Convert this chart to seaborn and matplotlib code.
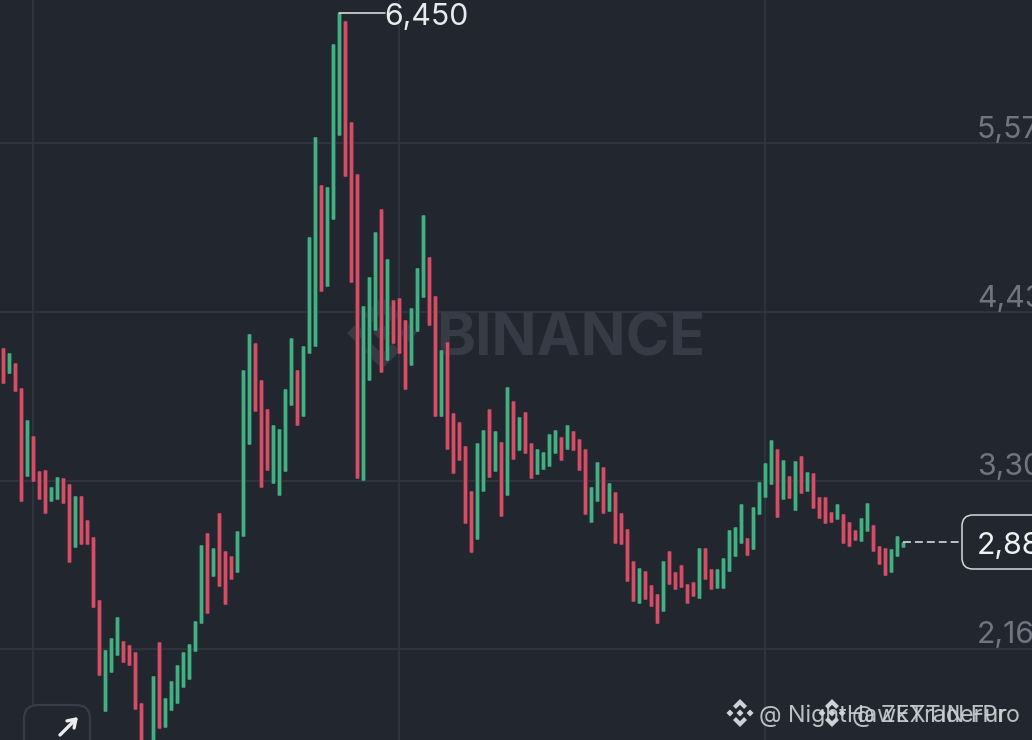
import matplotlib
matplotlib.use("Agg")
import matplotlib.pyplot as plt
import matplotlib.patheffects as pe
from matplotlib.patches import FancyBboxPatch, Polygon
from matplotlib.transforms import Affine2D
import seaborn as sns
import pandas as pd

# bar highs / lows, one bar per index
highs = [4189, 4155, 4088, 3919, 3703, 3596, 3360, 3366, 3252, 3319,
         3313, 3272, 3191, 3191, 3029, 2915, 2490, 2153, 2234, 2376,
         2214, 2187, 2140, 1796, 1533, 1978, 2207, 1830, 1944, 2052,
         2140, 2194, 2349, 2861, 2942, 2841, 3077, 2821, 2787, 2955,
         4040, 4283, 4222, 3973, 3778, 3670, 3643, 3912, 4256, 4040,
         4202, 4937, 5611, 5287, 5274, 6238, 6450, 6393, 5712, 5362,
         4472, 4667, 4971, 5126, 4789, 4512, 4526, 4377, 4458, 4728,
         5085, 4802, 4539, 4175, 4229, 3751, 3690, 3528, 3225, 3548,
         3636, 3778, 3629, 3555, 3926, 3832, 3724, 3757, 3548, 3508,
         3488, 3609, 3636, 3589, 3670, 3629, 3575, 3508, 3252, 3420,
         3387, 3279, 3218, 3077, 2969, 2753, 2706, 2686, 2591, 2531,
         2753, 2821, 2679, 2726, 2598, 2612, 2841, 2841, 2699, 2699,
         2773, 2962, 2982, 3137, 2908, 3117, 3286, 3414, 3569, 3508,
         3434, 3326, 3427, 3461, 3353, 3346, 3184, 3184, 3083, 3137,
         3070, 3016, 2962, 3043, 3144, 2996, 2854, 2841, 2834, 2922, 2881]
lows = [3953, 4020, 3899, 3158, 3326, 3292, 3171, 3077, 3158, 3171,
        3144, 2746, 2847, 2868, 2868, 2443, 1985, 1742, 2005, 2120,
        2072, 2052, 1756, 1513, 1344, 1479, 1628, 1634, 1749, 1796,
        1904, 1958, 2147, 2335, 2403, 2652, 2585, 2463, 2632, 2679,
        2922, 3542, 3764, 3252, 3366, 3279, 3198, 3360, 3805, 3670,
        3730, 4155, 4202, 4573, 4607, 5058, 5624, 5348, 4634, 3313,
        3299, 3973, 4310, 4027, 4108, 4222, 4155, 3912, 4074, 4303,
        4532, 4344, 3730, 3730, 3508, 3346, 3434, 3009, 2814, 2901,
        3225, 3319, 3360, 3056, 3198, 3441, 3501, 3481, 3313, 3340,
        3373, 3393, 3481, 3434, 3508, 3501, 3366, 3070, 3016, 3158,
        3077, 3090, 2874, 2868, 2618, 2484, 2470, 2497, 2450, 2335,
        2416, 2598, 2564, 2578, 2470, 2517, 2504, 2632, 2564, 2571,
        2571, 2686, 2787, 2874, 2794, 2834, 3070, 3184, 3272, 3050,
        3171, 3178, 3097, 3211, 3225, 3110, 3043, 3009, 3016, 3036,
        2874, 2854, 2895, 2888, 2955, 2821, 2733, 2659, 2679, 2787, 2847]
sides = ("rgrrgrrrgg" "rrgrrrrggg" "rrrrrgrggg" "ggggrgrrrg" "ggrrrggggr"
         "gggrgggrrr" "gggrgrrrgg" "grrgrrrrrg" "grgrgrgrrg" "gggrgrrrgg"
         "rgrrrrgrrr" "grrrrrgrrg" "ggggrggggr" "grgrgrrrrg" "rrrggrrrggg")

price_grid = [2160, 3295, 4430, 5570]
price_labels = ["2,160", "3,300", "4,430", "5,570"]
time_grid = [5, 66, 127]
peak_label = "6,450"
last_label = "2,880"

BG = "#21262f"
GRID = "#323843"
GREEN = "#47ae84"
RED = "#d24f68"
palette = {"g": GREEN, "r": RED}
edge = {GREEN: "#17403a", RED: "#4a2431"}

sns.set_theme(style="darkgrid", rc={"axes.facecolor": BG, "figure.facecolor": BG,
                                    "grid.color": GRID, "grid.linewidth": 1.1})
plt.rcParams["font.family"] = ["Inter", "DejaVu Sans"]

# one row per bar end, seaborn then draws each bar as a vertical line
rows = []
for i in range(len(highs)):
    rows.append({"i": i, "price": highs[i], "side": sides[i]})
    rows.append({"i": i, "price": lows[i], "side": sides[i]})
bars = pd.DataFrame(rows)

fig = plt.figure(figsize=(10.32, 7.4), dpi=100)
ax = fig.add_axes([0, 0, 1, 1])

sns.lineplot(data=bars, x="i", y="price", hue="side", units="i", estimator=None,
             sort=False, palette=palette, linewidth=2.4, solid_capstyle="butt",
             legend=False, ax=ax)
for line in ax.lines:
    line.set_path_effects([pe.withStroke(linewidth=3.4, foreground=edge[line.get_color()]),
                           pe.Normal()])

ax.set_yticks(price_grid)
ax.set_xticks(time_grid)
ax.tick_params(length=0, labelbottom=False, labelleft=False)
ax.set_xlabel("")
ax.set_ylabel("")
ax.set_axisbelow(True)
sns.despine(ax=ax, left=True, bottom=True, right=True, top=True)

# overlays are placed in image pixels, y going down
px = Affine2D().scale(1, -1).translate(0, 740)


def logo(cx, cy, r, color, zorder):
    top = [(0, -1), (.5, -.5), (.29, -.29), (0, -.58), (-.29, -.29), (-.5, -.5)]
    diamond = [(0, -.25), (.25, 0), (0, .25), (-.25, 0)]
    shapes = [top, [(x, -y) for x, y in top], diamond,
              [(x - .72, y) for x, y in diamond], [(x + .72, y) for x, y in diamond]]
    for shape in shapes:
        ax.add_patch(Polygon([(cx + x * r, cy + y * r) for x, y in shape], closed=True,
                             fc=color, ec="none", transform=px, zorder=zorder, clip_on=False))


# watermark
logo(382, 333, 36, "#363b45", 1)
ax.text(436, 340, "BINANCE", transform=px, color="#363b45", fontsize=42.5,
        fontweight="bold", va="center", ha="left", zorder=1)

# price labels sit above their gridlines and run off the right edge
for price, label in zip(price_grid, price_labels):
    y = 649 - (price - 2160) / 6.74
    ax.text(977, y - 13.5, label, transform=px, color="#6f7680", fontsize=21.8,
            va="center", ha="left", zorder=3, clip_on=False)

# high marker
ax.plot([339, 385], [13, 13], color="#e6e8ea", lw=1.1, transform=px, zorder=4)
ax.text(384, 17, peak_label, transform=px, color="#e9eaec", fontsize=21.8,
        va="center", ha="left", zorder=4)

# last price
ax.plot([903, 960], [541.5, 541.5], color="#e6e8ea", lw=1.1, dashes=(5.2, 2.6), transform=px, zorder=4)
ax.add_patch(FancyBboxPatch((962, 515), 120, 54, boxstyle="round,pad=0,rounding_size=11",
                            fc=BG, ec="#d5d7da", lw=1.1, transform=px, zorder=5))
ax.text(977, 546, last_label, transform=px, color="#f0f1f2", fontsize=21.8,
        va="center", ha="left", zorder=6)

# corner button
ax.add_patch(FancyBboxPatch((24, 705), 66, 70, boxstyle="round,pad=0,rounding_size=14",
                            fc=BG, ec="#373d48", lw=1.6, transform=px, zorder=5))
ax.annotate("", xy=(78, 717), xytext=(60, 735), xycoords=px, textcoords=px, zorder=6,
            arrowprops=dict(arrowstyle="->,head_length=0.45,head_width=0.3", color="#eceded", lw=2.4,
                            shrinkA=0, shrinkB=0))

# reposted-by watermarks overlap each other at the bottom right
logo(740, 713, 14, "#cfd1d4", 7)
logo(832, 713, 14, "#cfd1d4", 7)
ax.text(759, 716, "@ NightHawkTraderPro", transform=px, color="#cfd1d4", fontsize=16.8,
        va="center", ha="left", zorder=7, alpha=0.9)
ax.text(852, 716, "@ ZEXTIN Fur", transform=px, color="#cfd1d4", fontsize=16.8,
        va="center", ha="left", zorder=7, alpha=0.9)

ax.set_xlim(-0.55, 171.45)
ax.set_ylim(1546.7, 6534.3)

fig.savefig("out.png", dpi=100, facecolor=BG)
